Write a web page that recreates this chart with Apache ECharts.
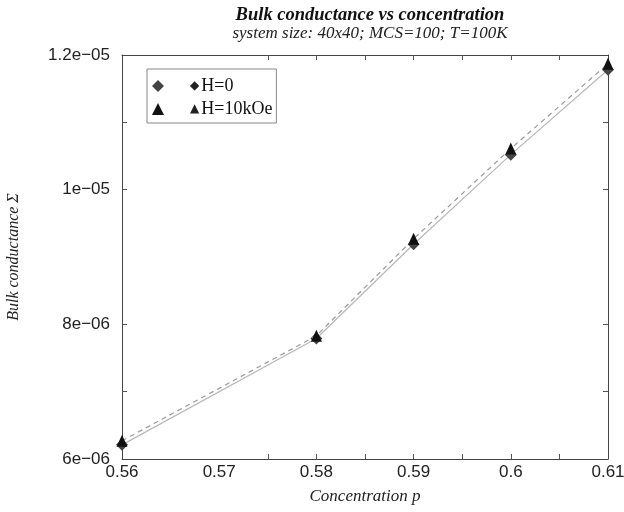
<!DOCTYPE html>
<html>
<head>
<meta charset="utf-8">
<script src="https://cdn.jsdelivr.net/npm/echarts@6/dist/echarts.min.js"></script>
<style>
  html, body { margin: 0; padding: 0; background: #fff; }
  #chart { width: 624px; height: 512px; }
</style>
</head>
<body>
<div id="chart"></div>
<script>
// Concentration values p (x) and bulk conductance for the two field settings
const concentration = [0.56, 0.58, 0.59, 0.60, 0.61];
const sigmaH0 = [6.21e-6, 7.79e-6, 9.19e-6, 1.052e-5, 1.178e-5];
const sigmaH10k = [6.27e-6, 7.83e-6, 9.27e-6, 1.061e-5, 1.187e-5];

const seriesNames = ['H=0', 'H=10kOe'];
const legendSymbols = ['\u25C6', '\u25B2'];

// Axis ticks and labels
const xLabelValues = [0.56, 0.57, 0.58, 0.59, 0.60, 0.61];
const xTickValues = [0.575, 0.58, 0.585, 0.59, 0.595, 0.60, 0.605];
const yLabelValues = [6e-6, 8e-6, 1e-5, 1.2e-5];
const yTickLabels = ['6e\u221206', '8e\u221206', '1e\u221205', '1.2e\u221205'];
const yTickValues = [7e-6, 8e-6, 1e-5, 1.1e-5];

const serif = '"Liberation Serif", "DejaVu Serif", serif';
const sans = '"Liberation Sans", Arial, sans-serif';

function yLabel(v) {
  let best = 0;
  yLabelValues.forEach((t, i) => {
    if (Math.abs(t - v) < Math.abs(yLabelValues[best] - v)) best = i;
  });
  return yTickLabels[best];
}

const tickStyle = { show: true, inside: true, length: 5, lineStyle: { color: '#555', width: 1 } };
const lineStyle = { show: true, lineStyle: { color: '#444', width: 1 } };

const chart = echarts.init(document.getElementById('chart'), null, { renderer: 'canvas' });

chart.setOption({
  animation: false,
  backgroundColor: '#fff',
  title: [
    {
      text: 'Bulk conductance vs concentration',
      left: 365, top: 1, textAlign: 'center',
      textStyle: { fontFamily: serif, fontStyle: 'italic', fontWeight: 'bold', fontSize: 18.5, color: '#111' }
    },
    {
      text: 'system size: 40x40; MCS=100; T=100K',
      left: 365, top: 20, textAlign: 'center',
      textStyle: { fontFamily: serif, fontStyle: 'italic', fontWeight: 'normal', fontSize: 17, color: '#222' }
    }
  ],
  legend: {
    orient: 'vertical',
    left: 147, top: 69,
    padding: [8, 4, 5, 5],
    itemGap: 5,
    itemWidth: 12, itemHeight: 12,
    borderColor: '#888', borderWidth: 1,
    data: [
      { name: seriesNames[0], icon: 'diamond' },
      { name: seriesNames[1], icon: 'triangle' }
    ],
    formatter: name => '{s|' + legendSymbols[seriesNames.indexOf(name)] + '}{t|' + name + '}',
    textStyle: {
      rich: {
        s: { fontFamily: '"DejaVu Sans", sans-serif', fontSize: 12, color: '#222', padding: [0, 2, 0, 21] },
        t: { fontFamily: serif, fontSize: 18, color: '#111' }
      }
    }
  },
  grid: { left: 122, right: 16, top: 55, bottom: 53, show: false, outerBoundsMode: 'none' },
  xAxis: [
    {
      type: 'value', min: 0.56, max: 0.61, position: 'bottom',
      axisLine: lineStyle, splitLine: { show: false },
      axisTick: Object.assign({}, tickStyle, { customValues: xTickValues }),
      axisLabel: {
        customValues: xLabelValues, margin: 5,
        fontFamily: sans, fontSize: 17, color: '#222',
        formatter: v => String(+v.toFixed(3))
      },
      name: 'Concentration p', nameLocation: 'middle', nameGap: 29,
      nameTextStyle: { fontFamily: serif, fontStyle: 'italic', fontSize: 17, color: '#222' }
    },
    {
      type: 'value', min: 0.56, max: 0.61, position: 'top',
      axisLine: lineStyle, splitLine: { show: false },
      axisTick: Object.assign({}, tickStyle, { customValues: xTickValues }),
      axisLabel: { show: false }
    }
  ],
  yAxis: [
    {
      type: 'value', min: 6e-6, max: 1.2e-5, position: 'left',
      axisLine: lineStyle, splitLine: { show: false },
      axisTick: Object.assign({}, tickStyle, { customValues: yTickValues }),
      axisLabel: {
        customValues: yLabelValues, margin: 12,
        fontFamily: sans, fontSize: 17, color: '#222',
        formatter: yLabel
      },
      name: 'Bulk conductance \u03A3', nameLocation: 'middle', nameGap: 100,
      nameTextStyle: { fontFamily: serif, fontStyle: 'italic', fontSize: 16, color: '#222' }
    },
    {
      type: 'value', min: 6e-6, max: 1.2e-5, position: 'right',
      axisLine: lineStyle, splitLine: { show: false },
      axisTick: Object.assign({}, tickStyle, { customValues: yTickValues }),
      axisLabel: { show: false }
    }
  ],
  series: [
    {
      name: seriesNames[0], type: 'line',
      data: concentration.map((p, i) => [p, sigmaH0[i]]),
      symbol: 'diamond', symbolSize: 12,
      itemStyle: { color: '#444' },
      lineStyle: { color: '#b8b8b8', width: 1.2, type: 'solid' },
      z: 2
    },
    {
      name: seriesNames[1], type: 'line',
      data: concentration.map((p, i) => [p, sigmaH10k[i]]),
      symbol: 'triangle', symbolSize: [11, 12],
      itemStyle: { color: '#111' },
      lineStyle: { color: '#9a9a9a', width: 1.2, type: [5, 4] },
      z: 3
    }
  ]
});
</script>
</body>
</html>
